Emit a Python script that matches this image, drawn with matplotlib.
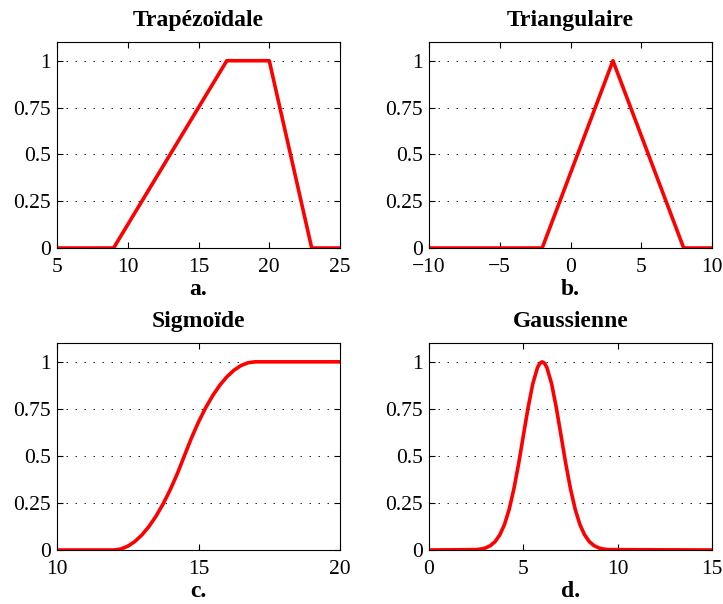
"""Four fuzzy membership functions in a 2x2 MATLAB-style grid."""

import matplotlib

matplotlib.use("Agg")
import matplotlib.pyplot as plt  # noqa: E402

plt.rcParams["font.family"] = ["Liberation Serif", "DejaVu Serif"]

# a. trapezoid breakpoints
trap_x = [5, 9, 17, 20, 23, 25]
trap_y = [0, 0, 1, 1, 0, 0]

# b. triangle breakpoints
tri_x = [-10, -2, 3, 8, 10]
tri_y = [0, 0, 1, 0, 0]

# c. S-shaped curve
sig_x = [10, 12, 12.25, 12.5, 12.75, 13, 13.25, 13.5, 13.75, 14, 14.25, 14.5,
         14.75, 15, 15.25, 15.5, 15.75, 16, 16.25, 16.5, 16.75, 17, 20]
sig_y = [0, 0, 0.005, 0.02, 0.045, 0.08, 0.125, 0.18, 0.245, 0.32, 0.405, 0.5,
         0.595, 0.68, 0.755, 0.82, 0.875, 0.92, 0.955, 0.98, 0.995, 1, 1]

# d. bell curve
gau_x = [0, 2.5, 2.75, 3, 3.25, 3.5, 3.75, 4, 4.25, 4.5, 4.75, 5, 5.25, 5.5,
         5.75, 5.875, 6, 6.125, 6.25, 6.5, 6.75, 7, 7.25, 7.5, 7.75, 8, 8.25,
         8.5, 8.75, 9, 9.25, 9.5, 15]
gau_y = [0, 0.002, 0.005, 0.011, 0.023, 0.044, 0.080, 0.135, 0.216, 0.325,
         0.458, 0.607, 0.755, 0.883, 0.969, 0.992, 1, 0.992, 0.969, 0.883,
         0.755, 0.607, 0.458, 0.325, 0.216, 0.135, 0.080, 0.044, 0.023,
         0.011, 0.005, 0.002, 0]

y_ticks = [0, 0.25, 0.5, 0.75, 1]
y_labels = ["0", "0.25", "0.5", "0.75", "1"]

panels = [
    ("Trapézoïdale", "a.", trap_x, trap_y, (5, 25), [5, 10, 15, 20, 25]),
    ("Triangulaire", "b.", tri_x, tri_y, (-10, 10), [-10, -5, 0, 5, 10]),
    ("Sigmoïde", "c.", sig_x, sig_y, (10, 20), [10, 15, 20]),
    ("Gaussienne", "d.", gau_x, gau_y, (0, 15), [0, 5, 10, 15]),
]

W, H = 723, 604
# axes boxes in pixels: left, top, right, bottom
boxes = [(57, 42, 340, 248), (429, 42, 712, 248),
         (57, 343, 340, 550), (429, 343, 712, 550)]

fig = plt.figure(figsize=(W / 100, H / 100), dpi=100)
for (title, tag, xs, ys, xlim, xticks), (l, t, r, b) in zip(panels, boxes):
    h = b - t
    ax = fig.add_axes([l / W, 1 - b / H, (r - l) / W, h / H])
    ax.plot(xs, ys, color="#ff0000", linewidth=2.6,
            solid_joinstyle="round", solid_capstyle="butt")
    ax.set_xlim(*xlim)
    ax.set_ylim(0, 1.1)
    ax.set_xticks(xticks)
    ax.set_yticks(y_ticks)
    ax.set_yticklabels(y_labels)
    ax.tick_params(direction="in", top=True, right=True, length=4,
                   width=0.8, labelsize=15.5)
    ax.tick_params(axis="x", pad=7.5)
    ax.tick_params(axis="y", pad=4.5)
    ax.yaxis.grid(True, linestyle=(0, (1.8, 9)), color="black", linewidth=0.6)
    ax.set_title(title, fontsize=17, fontweight="bold",
                 y=1 + 16 / h, va="baseline", pad=0)
    ax.set_xlabel(tag, fontsize=17, fontweight="bold", va="baseline")
    ax.xaxis.set_label_coords(0.5, -47 / h)
    for sp in ax.spines.values():
        sp.set_linewidth(0.8)

fig.savefig("out.png", dpi=100)
